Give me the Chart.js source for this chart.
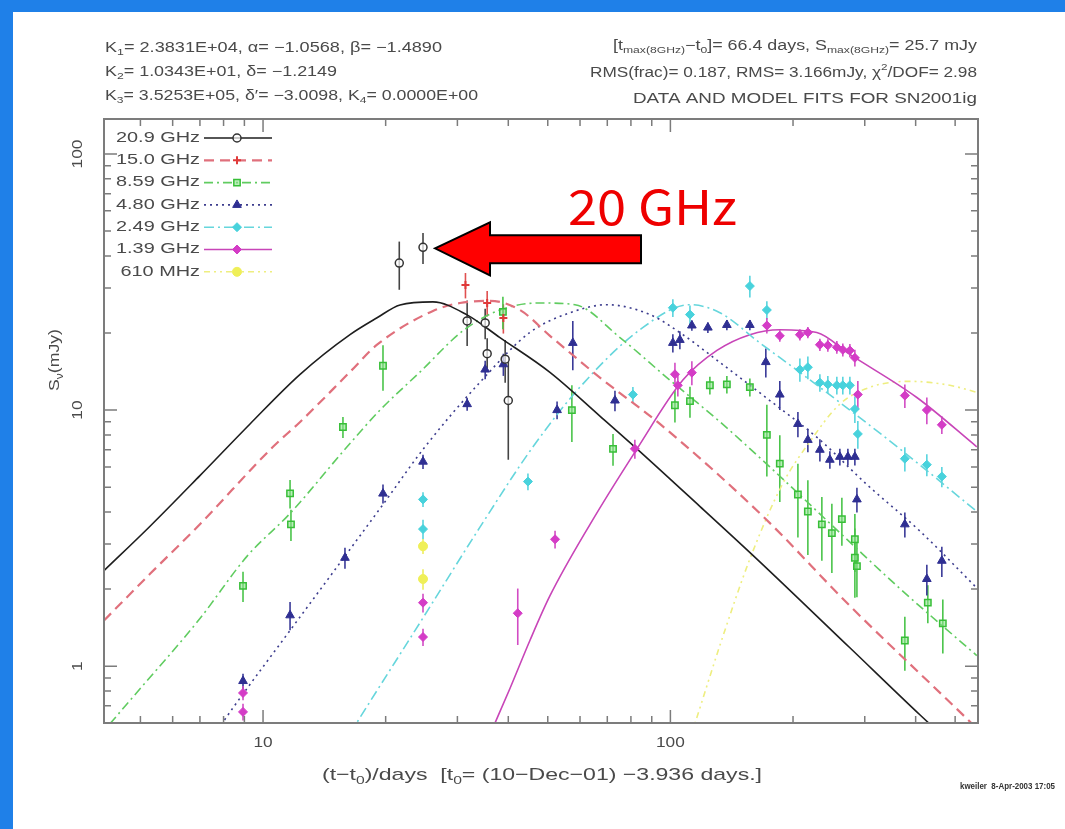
<!DOCTYPE html>
<html><head><meta charset="utf-8">
<script src="https://cdn.jsdelivr.net/npm/chart.js@4.4.0/dist/chart.umd.min.js"></script>
<style>
html,body{margin:0;padding:0;width:1065px;height:829px;overflow:hidden;background:#1f80e8;}
#frame{position:absolute;left:13px;top:12px;width:1052px;height:817px;background:#fff;}
#c{position:absolute;left:0;top:0;}
</style></head><body>
<div id="frame"></div>
<canvas id="c" width="1065" height="829"></canvas>
<script>
// ---------- series names ----------
const seriesNames = ['20.9 GHz','15.0 GHz','8.59 GHz','4.80 GHz','2.49 GHz','1.39 GHz','610 MHz'];

// ---------- observed data (days, mJy, error mJy) ----------
const t209 = [21.6, 24.7, 31.7, 35.1, 35.5, 39.3, 40.0];
const s209 = [37.5, 43.2, 22.3, 21.9, 16.6, 15.8, 10.9];
const e209 = [8, 6, 4.5, 3, 2.5, 3, 4.5];

const t150 = [31.4, 35.5, 38.9];
const s150 = [30.8, 26.2, 22.9];
const e150 = [3.5, 3, 3];

const t859 = [8.93, 11.65, 11.71, 15.71, 19.70, 38.8, 57.3, 72.3, 102.6, 111.7, 125.0, 137.6, 156.7, 172.5, 185.6, 205.6, 217.5, 235.4, 249.1, 263.6, 283.7, 283.7, 287.0, 376.3, 428.5, 466.4];
const s859 = [2.06, 4.73, 3.58, 8.59, 14.9, 24.2, 10.0, 7.06, 10.45, 10.84, 12.5, 12.6, 12.3, 8.0, 6.18, 4.68, 4.02, 3.58, 3.31, 3.75, 3.13, 2.65, 2.46, 1.26, 1.77, 1.47];
const e859 = [0.28, 0.6, 0.5, 0.8, 3, 3.5, 2.5, 1, 1.5, 1.5, 1, 1, 1, 2.5, 1.8, 1.5, 1.3, 1, 1, 0.8, 0.8, 0.8, 0.6, 0.3, 0.3, 0.35];

const t480 = [8.93, 11.65, 15.89, 19.70, 24.7, 31.7, 35.1, 38.9, 52.7, 57.6, 73.1, 101.4, 105.5, 112.9, 123.6, 137.6, 156.7, 171.5, 185.6, 205.6, 217.5, 232.8, 246.3, 260.6, 272.7, 283.7, 287.0, 376.3, 426.1, 463.8];
const s480 = [0.875, 1.58, 2.65, 4.72, 6.29, 10.55, 14.4, 15.1, 10.0, 18.3, 10.9, 18.3, 18.8, 21.4, 21.0, 21.5, 21.5, 15.4, 11.5, 8.83, 7.65, 7.0, 6.4, 6.57, 6.57, 6.57, 4.48, 3.58, 2.19, 2.58];
const e480 = [0.06, 0.2, 0.25, 0.4, 0.4, 0.6, 1.2, 1.5, 0.8, 4, 1, 1.5, 1.5, 1, 1, 1, 1, 2, 1.5, 1, 0.8, 0.7, 0.5, 0.5, 0.5, 0.5, 0.5, 0.4, 0.3, 0.35];

const t249 = [24.7, 24.7, 44.7, 80.9, 101.4, 111.7, 156.7, 172.5, 207.9, 217.5, 232.8, 243.5, 256.2, 265.0, 275.8, 283.7, 288.5, 376.3, 426.1, 463.8];
const s249 = [4.48, 3.43, 5.26, 11.5, 25.1, 23.6, 30.5, 24.6, 14.4, 14.7, 12.8, 12.6, 12.5, 12.5, 12.5, 10.1, 8.07, 6.46, 6.12, 5.5];
const e249 = [0.3, 0.3, 0.4, 0.8, 2, 2, 3, 2, 1.5, 1.5, 1, 1, 1, 1, 1, 1.2, 1, 0.7, 0.6, 0.5];

const t139 = [8.93, 8.93, 24.7, 24.7, 42.2, 52.1, 81.8, 102.6, 104.3, 112.9, 172.5, 185.6, 207.9, 217.5, 232.8, 243.5, 256.2, 265.0, 275.8, 283.7, 288.5, 376.3, 426.1, 463.8];
const s139 = [0.786, 0.663, 1.77, 1.30, 1.61, 3.13, 7.06, 13.8, 12.5, 14.0, 21.4, 19.5, 19.7, 20.1, 18.0, 17.9, 17.6, 17.2, 17.1, 16.0, 11.5, 11.4, 10.0, 8.76];
const e139 = [0.05, 0.05, 0.15, 0.1, 0.4, 0.25, 0.6, 1.5, 1.2, 1.5, 1.5, 1, 1, 1, 1, 1, 1, 1, 1, 1.2, 1.5, 1.2, 1.2, 0.7];

const t061 = [24.7, 24.7];
const s061 = [2.94, 2.19];
const e061 = [0.2, 0.2];

// ---------- model fit curves ----------
const fitT209 = [4.07, 5.28, 7.00, 9.29, 12.33, 16.35, 19.05, 21.69, 26.13, 31.67, 38.16, 50.62, 67.14, 82.77, 118.1, 163.1, 275.8, 409.6, 513.5];
const fitS209 = [2.36, 3.52, 5.55, 8.83, 13.79, 19.71, 22.93, 25.75, 26.45, 23.55, 19.19, 14.04, 9.48, 7.06, 4.21, 2.62, 1.18, 0.646, 0.464];

const fitT150 = [4.07, 5.28, 7.00, 10.58, 12.33, 16.35, 19.05, 26.13, 30.43, 36.07, 42.72, 50.62, 67.14, 94.24, 168.7, 275.8, 513.5, 608];
const fitS150 = [1.508, 2.294, 3.584, 7.19, 8.99, 14.1, 18.0, 24.4, 26.2, 26.7, 24.6, 19.5, 13.4, 8.83, 3.85, 1.72, 0.663, 0.51];

const fitT859 = [4.21, 4.77, 7.00, 9.14, 11.65, 16.08, 19.37, 24.3, 30.96, 38.16, 47.8, 58.3, 75.2, 98.0, 132.3, 175.4, 275.8, 365.8, 565.1];
const fitS859 = [0.596, 0.751, 1.535, 2.69, 3.95, 7.19, 10.0, 14.1, 20.4, 24.6, 26.2, 25.8, 19.2, 13.4, 9.0, 6.0, 3.05, 2.01, 1.10];

const fitT480 = [7.89, 8.44, 11.65, 15.89, 19.70, 24.98, 34.08, 45.19, 56.7, 69.9, 89.1, 107.3, 132.3, 175.4, 232.8, 303.6, 409.6, 565.1];
const fitS480 = [0.59, 0.688, 1.379, 2.69, 4.28, 7.19, 12.84, 20.1, 24.0, 25.8, 23.6, 19.7, 15.35, 10.9, 7.65, 5.12, 3.37, 2.02];

const fitT249 = [16.35, 17.3, 24.29, 34.08, 46.0, 60.0, 84.2, 111.7, 132.3, 165.8, 207.9, 275.8, 365.8, 565.1];
const fitS249 = [0.545, 0.63, 1.48, 3.49, 7.19, 12.3, 20.6, 25.8, 24.0, 18.3, 14.04, 10.0, 7.06, 4.02];

const fitT139 = [36.5, 40.4, 45.2, 50.6, 63.5, 82.8, 107.3, 130.1, 156.7, 185.6, 228.8, 275.8, 402.7, 565.1];
const fitS139 = [0.565, 0.82, 1.26, 1.88, 3.58, 7.06, 13.1, 17.1, 19.7, 20.6, 20.1, 16.5, 11.2, 7.19];

const fitT061 = [111.7, 116.1, 132.3, 156.7, 188.8, 219.9, 260.6, 308.8, 387.0, 485.2, 565.1];
const fitS061 = [0.52, 0.629, 1.206, 2.62, 5.17, 7.52, 10.55, 12.28, 12.95, 12.5, 11.74];

// ---------- axis ticks ----------
const xMajorTicks = [10, 100];
const xTickLabels = ['10', '100'];
const xMinorTicks = [5, 6, 7, 8, 9, 20, 30, 40, 50, 60, 70, 80, 90, 200, 300, 400, 500];
const yMajorTicks = [1, 10, 100];
const yTickLabels = ['1', '10', '100'];
const yMinorTicks = [0.7, 0.8, 0.9, 2, 3, 4, 5, 6, 7, 8, 9, 20, 30, 40, 50, 60, 70, 80, 90];

// ---------- styles ----------
const FONT = "'Liberation Sans','DejaVu Sans',sans-serif";
const TXT = '#4a4a4a';
const styles = [
  {line:'#1e1e1e', dash:[], lw:1.6, mk:'circle', mr:4, mbg:'rgba(255,255,255,0.7)', mbd:'#333', mbw:1.5, err:'#444'},
  {line:'#e0707c', dash:[10,6], lw:2.2, mk:'cross', mr:4, mbg:'#e03a3a', mbd:'#e03a3a', mbw:2, err:'#e05050'},
  {line:'#60cc60', dash:[9,4,2,4], lw:1.6, mk:'rect', mr:4.5, mbg:'rgba(140,225,140,0.6)', mbd:'#38bf38', mbw:1.5, err:'#4ac44a'},
  {line:'#3d3d8e', dash:[2,4], lw:1.6, mk:'triangle', mr:5, mbg:'#2f2f92', mbd:'#2f2f92', mbw:1, err:'#3a3a98'},
  {line:'#66d6dc', dash:[10,4,2,4], lw:1.6, mk:'rectRot', mr:4.5, mbg:'#48d2dc', mbd:'#48d2dc', mbw:1, err:'#58d4de'},
  {line:'#c845b8', dash:[], lw:1.6, mk:'rectRot', mr:4.5, mbg:'#d43cc6', mbd:'#d43cc6', mbw:1, err:'#d24cc4'},
  {line:'#eeee80', dash:[6,4,2,4,2,4], lw:1.6, mk:'circle', mr:4.5, mbg:'#efef58', mbd:'#efef58', mbw:1, err:'#eeee60'}
];

const fits = [[fitT209,fitS209],[fitT150,fitS150],[fitT859,fitS859],[fitT480,fitS480],[fitT249,fitS249],[fitT139,fitS139],[fitT061,fitS061]];
const obs = [[t209,s209,e209],[t150,s150,e150],[t859,s859,e859],[t480,s480,e480],[t249,s249,e249],[t139,s139,e139],[t061,s061,e061]];

const datasets = [];
fits.forEach((f,i)=>{
  const st = styles[i];
  datasets.push({
    label: seriesNames[i] + ' fit',
    data: f[0].map((t,k)=>({x:t, y:f[1][k]})),
    showLine: true, pointRadius: 0, borderColor: st.line, borderDash: st.dash,
    borderWidth: st.lw, cubicInterpolationMode: 'monotone', fill: false, order: 10
  });
});
obs.forEach((o,i)=>{
  const st = styles[i];
  datasets.push({
    label: seriesNames[i],
    data: o[0].map((t,k)=>({x:t, y:o[1][k]})),
    errors: o[2], errColor: st.err,
    showLine: false, pointStyle: st.mk, pointRadius: st.mr,
    backgroundColor: st.mbg, borderColor: st.mbd, borderWidth: st.mbw, order: 1
  });
});

// ---------- helpers ----------
function measureRich(ctx, segs, size, weight){
  const w = weight || '';
  return segs.map(([t,m])=>{ ctx.font = w + ' ' + (m ? size*0.68 : size) + 'px ' + FONT; return ctx.measureText(t).width; });
}
function drawRich(ctx, segs, x, y, size, targetW, align, color, weight, scaleX){
  const w = weight || '';
  const widths = measureRich(ctx, segs, size, weight);
  const nat = widths.reduce((a,b)=>a+b,0);
  const sx = scaleX ? scaleX : (targetW ? targetW/nat : 1);
  const total = nat*sx;
  const x0 = align==='right' ? x-total : (align==='center' ? x-total/2 : x);
  ctx.save();
  ctx.translate(x0, y); ctx.scale(sx, 1);
  ctx.fillStyle = color; ctx.textBaseline = 'middle'; ctx.textAlign = 'left';
  let cx = 0;
  segs.forEach(([t,m],i)=>{
    ctx.font = w + ' ' + (m ? size*0.68 : size) + 'px ' + FONT;
    const dy = m===1 ? size*0.32 : (m===2 ? -size*0.38 : 0);
    ctx.fillText(t, cx, dy);
    cx += widths[i];
  });
  ctx.restore();
}

const errorBarPlugin = {
  id: 'errbars',
  beforeDatasetsDraw(chart){
    const {ctx, chartArea:a, scales:{x, y}} = chart;
    ctx.save();
    ctx.beginPath(); ctx.rect(a.left, a.top, a.right-a.left, a.bottom-a.top); ctx.clip();
    chart.data.datasets.forEach(ds=>{
      if(!ds.errors) return;
      ctx.strokeStyle = ds.errColor; ctx.lineWidth = 1.6;
      ds.data.forEach((p,i)=>{
        const e = ds.errors[i];
        const px = x.getPixelForValue(p.x);
        ctx.beginPath();
        ctx.moveTo(px, y.getPixelForValue(p.y + e));
        ctx.lineTo(px, y.getPixelForValue(Math.max(p.y - e, 0.01)));
        ctx.stroke();
      });
    });
    ctx.restore();
  }
};

const framePlugin = {
  id: 'frame',
  afterDatasetsDraw(chart){
    const {ctx, chartArea:a, scales:{x, y}} = chart;
    ctx.save();
    ctx.strokeStyle = '#7c7c7c'; ctx.lineWidth = 2;
    ctx.strokeRect(a.left, a.top, a.right-a.left, a.bottom-a.top);
    ctx.lineWidth = 1.5;
    const xt = (v, len)=>{ const p = x.getPixelForValue(v); ctx.beginPath(); ctx.moveTo(p, a.bottom); ctx.lineTo(p, a.bottom-len); ctx.moveTo(p, a.top); ctx.lineTo(p, a.top+len); ctx.stroke(); };
    const yt = (v, len)=>{ const p = y.getPixelForValue(v); ctx.beginPath(); ctx.moveTo(a.left, p); ctx.lineTo(a.left+len, p); ctx.moveTo(a.right, p); ctx.lineTo(a.right-len, p); ctx.stroke(); };
    xMajorTicks.forEach(v=>xt(v, 13)); xMinorTicks.forEach(v=>xt(v, 7));
    yMajorTicks.forEach(v=>yt(v, 13)); yMinorTicks.forEach(v=>yt(v, 7));
    ctx.restore();
  }
};

const textPlugin = {
  id: 'texts',
  afterDraw(chart){
    const {ctx, chartArea:a, scales:{x, y}} = chart;
    // tick labels
    xMajorTicks.forEach((v,i)=>drawRich(ctx, [[xTickLabels[i],0]], x.getPixelForValue(v), a.bottom+20, 15, 0, 'center', TXT, '', 1.15));
    yMajorTicks.forEach((v,i)=>{
      ctx.save(); ctx.translate(78, y.getPixelForValue(v)); ctx.rotate(-Math.PI/2);
      drawRich(ctx, [[yTickLabels[i],0]], 0, 0, 15, 0, 'center', TXT, '', 1.15);
      ctx.restore();
    });
    // axis titles
    ctx.save(); ctx.translate(55, 360); ctx.rotate(-Math.PI/2);
    drawRich(ctx, [['S',0],['ν',1],['(mJy)',0]], 0, 0, 15, 62, 'center', TXT);
    ctx.restore();
    drawRich(ctx, [['(t−t',0],['0',1],[')/days  [t',0],['0',1],['= (10−Dec−01) −3.936 days.]',0]], 542, 775, 17, 440, 'center', TXT);
    drawRich(ctx, [['kweiler  8-Apr-2003 17:05',0]], 960, 787, 9, 95, 'left', '#333', 'bold');
    // header left
    drawRich(ctx, [['K',0],['1',1],['= 2.3831E+04, α= −1.0568, β= −1.4890',0]], 105, 48, 14, 337, 'left', TXT);
    drawRich(ctx, [['K',0],['2',1],['= 1.0343E+01, δ= −1.2149',0]], 105, 72, 14, 232, 'left', TXT);
    drawRich(ctx, [['K',0],['3',1],['= 3.5253E+05, δ′= −3.0098, K',0],['4',1],['= 0.0000E+00',0]], 105, 96, 14, 373, 'left', TXT);
    // header right
    drawRich(ctx, [['[t',0],['max(8GHz)',1],['−t',0],['0',1],[']= 66.4 days, S',0],['max(8GHz)',1],['= 25.7 mJy',0]], 977, 46, 14, 364, 'right', TXT);
    drawRich(ctx, [['RMS(frac)= 0.187, RMS= 3.166mJy, χ',0],['2',2],['/DOF= 2.98',0]], 977, 73, 14, 387, 'right', TXT);
    drawRich(ctx, [['DATA AND MODEL FITS FOR SN2001ig',0]], 977, 99, 15, 344, 'right', TXT);
    // legend (common horizontal scale so "20.9 GHz" spans like the reference)
    const legSize = 14;
    const refW = measureRich(ctx, [[seriesNames[0],0]], legSize)[0];
    const legSx = 84 / refW;
    seriesNames.forEach((nm,i)=>{
      const st = styles[i];
      const ly = 138 + 22.3*i;
      drawRich(ctx, [[nm,0]], 200, ly, legSize, 0, 'right', TXT, '', legSx);
      ctx.save();
      ctx.strokeStyle = st.line; ctx.lineWidth = st.lw; ctx.setLineDash(st.dash);
      ctx.beginPath(); ctx.moveTo(204, ly); ctx.lineTo(272, ly); ctx.stroke();
      ctx.setLineDash([]);
      ctx.fillStyle = st.mbg; ctx.strokeStyle = st.mbd; ctx.lineWidth = st.mbw;
      Chart.helpers.drawPoint(ctx, {pointStyle: st.mk, radius: st.mr, rotation: 0, borderWidth: st.mbw}, 237, ly);
      ctx.restore();
    });
    // red arrow pointing at the 20.9 GHz point
    const tipX = x.getPixelForValue(t209[1]) + 12;
    const tipY = y.getPixelForValue(s209[1]) + 1;
    ctx.save();
    ctx.beginPath();
    ctx.moveTo(tipX, tipY);
    ctx.lineTo(tipX+55, tipY-26);
    ctx.lineTo(tipX+55, tipY-13);
    ctx.lineTo(tipX+206, tipY-13);
    ctx.lineTo(tipX+206, tipY+15);
    ctx.lineTo(tipX+55, tipY+15);
    ctx.lineTo(tipX+55, tipY+27);
    ctx.closePath();
    ctx.fillStyle = '#ff0000'; ctx.fill();
    ctx.strokeStyle = '#000'; ctx.lineWidth = 2; ctx.lineJoin = 'miter'; ctx.stroke();
    ctx.restore();
    ctx.save();
    const labFont = "48px 'Noto Sans CJK JP','Noto Sans',sans-serif";
    ctx.font = labFont;
    const lw = ctx.measureText('20 GHz').width;
    ctx.translate(tipX+133, tipY-23);
    ctx.scale(169/lw, 1);
    ctx.fillStyle = '#ee0000'; ctx.textBaseline = 'alphabetic'; ctx.textAlign = 'left';
    ctx.fillText('20 GHz', 0, 0);
    ctx.restore();
  }
};

Chart.defaults.font.family = FONT;
new Chart(document.getElementById('c'), {
  type: 'scatter',
  data: { datasets },
  options: {
    responsive: false, animation: false, devicePixelRatio: 1,
    layout: { padding: {left:104, right:87, top:119, bottom:106} },
    scales: {
      x: { type: 'logarithmic', min: 4.07, max: 569, display: false },
      y: { type: 'logarithmic', min: 0.63, max: 137, display: false }
    },
    plugins: { legend: {display:false}, tooltip: {enabled:false} }
  },
  plugins: [errorBarPlugin, framePlugin, textPlugin]
});
</script></body></html>
